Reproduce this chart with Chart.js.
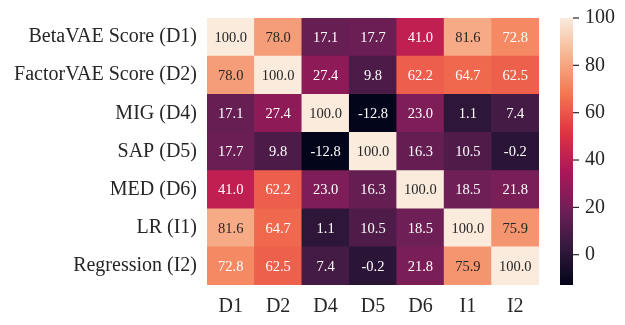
<!DOCTYPE html>
<html>
<head>
<meta charset="utf-8">
<script src="https://cdn.jsdelivr.net/npm/chart.js@4/dist/chart.umd.min.js"></script>
<style>
  body { margin: 0; background: #fff; }
  #wrap { width: 625px; height: 325px; }
</style>
</head>
<body>
<div id="wrap"><canvas id="HeatChart"></canvas></div>
<script>
"use strict";

const rowLabels = ["BetaVAE Score (D1)", "FactorVAE Score (D2)", "MIG (D4)", "SAP (D5)", "MED (D6)", "LR (I1)", "Regression (I2)"];
const colLabels = ["D1", "D2", "D4", "D5", "D6", "I1", "I2"];
const corrD1 = [100.0, 78.0, 17.1, 17.7, 41.0, 81.6, 72.8];
const corrD2 = [78.0, 100.0, 27.4, 9.8, 62.2, 64.7, 62.5];
const corrD4 = [17.1, 27.4, 100.0, -12.8, 23.0, 1.1, 7.4];
const corrD5 = [17.7, 9.8, -12.8, 100.0, 16.3, 10.5, -0.2];
const corrD6 = [41.0, 62.2, 23.0, 16.3, 100.0, 18.5, 21.8];
const corrI1 = [81.6, 64.7, 1.1, 10.5, 18.5, 100.0, 75.9];
const corrI2 = [72.8, 62.5, 7.4, -0.2, 21.8, 75.9, 100.0];
const corr = [corrD1, corrD2, corrD4, corrD5, corrD6, corrI1, corrI2];
const cbarTicks = [0, 20, 40, 60, 80, 100];

const vmin = Math.min(...corr.flat());
const vmax = Math.max(...corr.flat());

// seaborn "rocket" colormap, approximated by a few stops
const rocketStops = [
    [0.0, [3, 5, 26]],
    [1 / 7, [53, 25, 62]],
    [2 / 7, [112, 31, 87]],
    [3 / 7, [173, 23, 89]],
    [4 / 7, [225, 51, 66]],
    [5 / 7, [243, 118, 81]],
    [6 / 7, [246, 180, 143]],
    [1.0, [250, 235, 221]]
];

function rocket(t) {
    t = Math.max(0, Math.min(1, t));
    for (let i = 1; i < rocketStops.length; i++) {
        if (t <= rocketStops[i][0]) {
            let a = rocketStops[i - 1], b = rocketStops[i];
            let f = (t - a[0]) / (b[0] - a[0]);
            return a[1].map((c, k) => Math.round(c + (b[1][k] - c) * f));
        }
    }
    return rocketStops[rocketStops.length - 1][1];
}

function cellColor(v) {
    let c = rocket((v - vmin) / (vmax - vmin));
    return "rgb(" + c[0] + "," + c[1] + "," + c[2] + ")";
}

function textColor(v) {
    let c = rocket((v - vmin) / (vmax - vmin)).map(x => {
        x = x / 255;
        return x <= 0.03928 ? x / 12.92 : Math.pow((x + 0.055) / 1.055, 2.4);
    });
    let lum = 0.2126 * c[0] + 0.7152 * c[1] + 0.0722 * c[2];
    return lum > 0.408 ? "#262626" : "#ffffff";
}

// bottom row first, since the stacked bars grow upward
let datasets = [];
for (let r = rowLabels.length - 1; r >= 0; r--) {
    datasets.push({
        label: rowLabels[r],
        values: corr[r],
        data: colLabels.map(() => 1),
        backgroundColor: corr[r].map(cellColor),
        borderWidth: 0,
        barPercentage: 1,
        categoryPercentage: 1
    });
}

const serif = "'Liberation Serif', 'DejaVu Serif', serif";

const annotate = {
    id: "annotate",
    afterDatasetsDraw(chart) {
        let ctx = chart.ctx;
        ctx.save();
        ctx.font = "14.5px " + serif;
        ctx.textAlign = "center";
        ctx.textBaseline = "middle";
        chart.data.datasets.forEach((ds, i) => {
            chart.getDatasetMeta(i).data.forEach((el, j) => {
                let v = ds.values[j];
                ctx.fillStyle = textColor(v);
                ctx.fillText(v.toFixed(1), el.x, (el.y + el.base) / 2 + 1);
            });
        });
        ctx.restore();
    }
};

const colorbar = {
    id: "colorbar",
    afterDraw(chart) {
        let ax = chart.scales.cbar;
        let ctx = chart.ctx;
        let x0 = ax.left + 21, w = 13;
        ctx.save();
        for (let py = Math.floor(ax.top); py < ax.bottom; py++) {
            ctx.fillStyle = cellColor(ax.getValueForPixel(py + 0.5));
            ctx.fillRect(x0, py, w, 1);
        }
        ctx.strokeStyle = "#262626";
        ctx.lineWidth = 1.2;
        cbarTicks.forEach(t => {
            let py = ax.getPixelForValue(t);
            ctx.beginPath();
            ctx.moveTo(x0 + w, py);
            ctx.lineTo(x0 + w + 6, py);
            ctx.stroke();
        });
        ctx.restore();
    }
};

new Chart(document.getElementById("HeatChart"), {
    type: "bar",
    data: { labels: colLabels, datasets: datasets },
    options: {
        responsive: true,
        maintainAspectRatio: false,
        animation: false,
        layout: { padding: { top: 16, left: 0, right: 0, bottom: 0 } },
        plugins: { legend: { display: false }, tooltip: { enabled: false } },
        scales: {
            x: {
                stacked: true,
                grid: { display: false, drawTicks: true, tickLength: 10 },
                border: { display: false },
                ticks: { color: "#262626", font: { family: serif, size: 20 }, padding: 0 },
                afterFit: s => { s.height = 40; }
            },
            y: {
                stacked: true,
                min: 0,
                max: rowLabels.length,
                grid: { display: false, drawTicks: true, tickLength: 10 },
                border: { display: false },
                afterBuildTicks: s => {
                    s.ticks = rowLabels.map((l, i) => ({ value: i + 0.5 }));
                },
                ticks: {
                    color: "#262626",
                    font: { family: serif, size: 20 },
                    padding: 0,
                    callback: v => rowLabels[rowLabels.length - 1 - Math.floor(v)]
                },
                afterFit: s => { s.width = 207; }
            },
            cbar: {
                type: "linear",
                position: "right",
                min: vmin,
                max: vmax,
                grid: { display: false, drawTicks: true, tickLength: 40 },
                border: { display: false },
                afterBuildTicks: s => {
                    s.ticks = cbarTicks.map(v => ({ value: v }));
                },
                ticks: { color: "#262626", font: { family: serif, size: 20 }, padding: 6 },
                afterFit: s => { s.width = 86; }
            }
        }
    },
    plugins: [annotate, colorbar]
});
</script>
</body>
</html>
